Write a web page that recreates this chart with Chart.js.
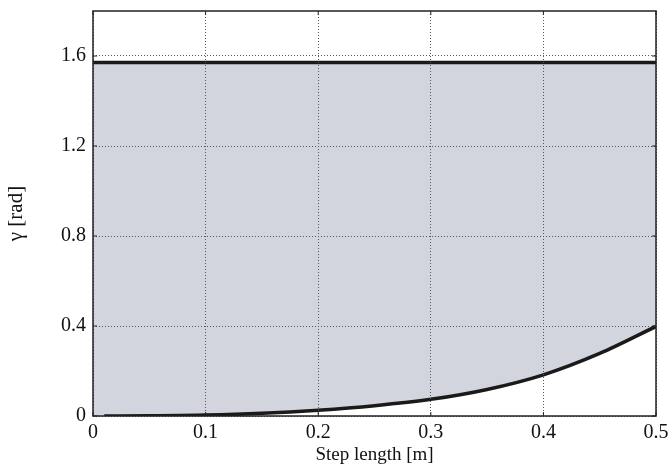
<!DOCTYPE html>
<html>
<head>
<meta charset="utf-8">
<script src="https://cdn.jsdelivr.net/npm/chart.js@4"></script>
<style>
  html, body { margin: 0; padding: 0; background: #fff; }
  canvas { display: block; }
</style>
</head>
<body>
<canvas id="gammaChart" width="672" height="466"></canvas>
<script>
// step length [m] and lower bound of gamma [rad]
const stepLength = [0.01, 0.05, 0.1, 0.15, 0.2, 0.25, 0.3, 0.35, 0.4, 0.45, 0.5];
const gammaLow = [0, 0.001, 0.004, 0.012, 0.026, 0.046, 0.074, 0.118, 0.183, 0.278, 0.398];
// upper bound is pi/2
const upperX = [0, 0.5];
const upperY = [1.5708, 1.5708];
// fill region starts at the axis origin
const fillX = [0].concat(stepLength);
const fillY = [0].concat(gammaLow);

const xTicks = [0, 0.1, 0.2, 0.3, 0.4, 0.5];
const yTicks = [0, 0.4, 0.8, 1.2, 1.6];

const serif = '"Liberation Serif", "DejaVu Serif", serif';

// frame + inward tick marks
const framePlugin = {
    id: 'frame',
    afterDraw(chart) {
        const { ctx, chartArea: a, scales } = chart;
        ctx.save();
        ctx.strokeStyle = '#222';
        ctx.lineWidth = 1;
        xTicks.forEach(v => {
            const px = scales.x.getPixelForValue(v);
            ctx.beginPath();
            ctx.moveTo(px, a.bottom); ctx.lineTo(px, a.bottom - 4);
            ctx.moveTo(px, a.top); ctx.lineTo(px, a.top + 4);
            ctx.stroke();
        });
        yTicks.forEach(v => {
            const py = scales.y.getPixelForValue(v);
            ctx.beginPath();
            ctx.moveTo(a.left, py); ctx.lineTo(a.left + 4, py);
            ctx.moveTo(a.right, py); ctx.lineTo(a.right - 4, py);
            ctx.stroke();
        });
        ctx.lineWidth = 1.5;
        ctx.strokeRect(a.left, a.top, a.right - a.left, a.bottom - a.top);
        ctx.restore();
    }
};

new Chart(
    document.getElementById('gammaChart'),
    {
        type: 'line',
        data: {
            datasets: [
                {
                    label: 'feasible region',
                    data: fillX.map((x, i) => ({ x: x, y: fillY[i] })),
                    order: 5,
                    borderWidth: 0,
                    borderColor: 'rgba(0,0,0,0)',
                    backgroundColor: 'rgb(210, 213, 221)',
                    fill: { value: 1.5708 },
                    pointRadius: 0,
                    cubicInterpolationMode: 'monotone'
                },
                {
                    label: 'upper',
                    data: upperX.map((x, i) => ({ x: x, y: upperY[i] })),
                    order: 1,
                    borderColor: '#1a1a1a',
                    borderWidth: 3.5,
                    pointRadius: 0,
                    fill: false
                },
                {
                    label: 'lower',
                    data: stepLength.map((x, i) => ({ x: x, y: gammaLow[i] })),
                    order: 1,
                    borderColor: '#1a1a1a',
                    borderWidth: 3.5,
                    pointRadius: 0,
                    fill: false,
                    cubicInterpolationMode: 'monotone'
                }
            ]
        },
        options: {
            responsive: false,
            animation: false,
            layout: { padding: { left: 0, top: 11, right: 16, bottom: 0 } },
            plugins: {
                legend: { display: false },
                tooltip: { enabled: false }
            },
            scales: {
                x: {
                    type: 'linear',
                    min: 0,
                    max: 0.5,
                    afterBuildTicks: s => { s.ticks = xTicks.map(v => ({ value: v })); },
                    afterFit: s => { s.height = 50; s.paddingRight = 0; },
                    grid: {
                        z: 1,
                        color: '#555',
                        lineWidth: 1,
                        drawTicks: false
                    },
                    border: { display: false, dash: [1, 2] },
                    ticks: {
                        padding: 5,
                        color: '#111',
                        font: { family: serif, size: 20 },
                        callback: v => String(v)
                    },
                    title: {
                        display: true,
                        text: 'Step length [m]',
                        color: '#111',
                        font: { family: serif, size: 19 },
                        padding: { top: 0, bottom: 0 }
                    }
                },
                y: {
                    type: 'linear',
                    min: 0,
                    max: 1.8,
                    afterBuildTicks: s => { s.ticks = yTicks.map(v => ({ value: v })); },
                    afterFit: s => { s.width = 93; s.paddingTop = 0; },
                    grid: {
                        z: 1,
                        color: '#555',
                        lineWidth: 1,
                        drawTicks: false
                    },
                    border: { display: false, dash: [1, 2] },
                    ticks: {
                        padding: 7,
                        color: '#111',
                        font: { family: serif, size: 20 },
                        callback: v => String(v)
                    },
                    title: {
                        display: true,
                        text: 'γ [rad]',
                        color: '#111',
                        font: { family: serif, size: 21 },
                        padding: { bottom: 0, top: 4 }
                    }
                }
            }
        },
        plugins: [framePlugin]
    }
);
</script>
</body>
</html>
